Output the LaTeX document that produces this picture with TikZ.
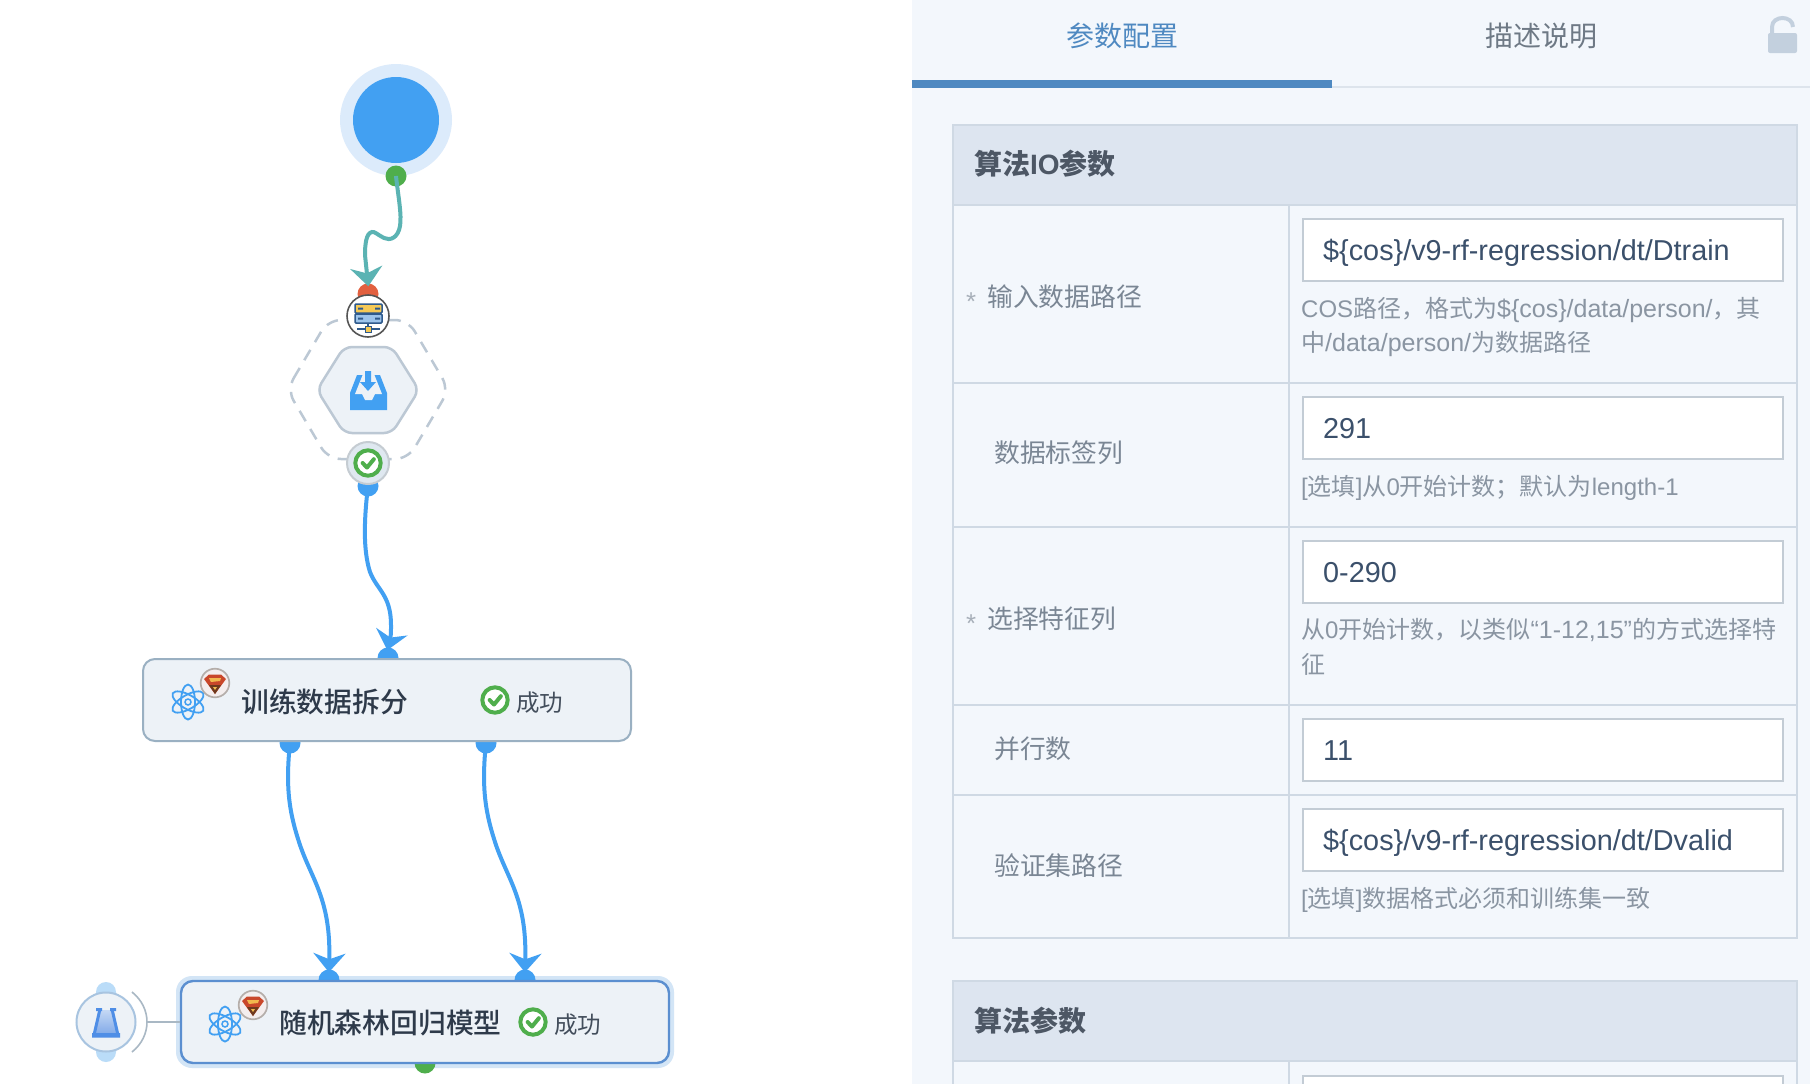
\documentclass[tikz,border=0pt]{standalone}
\usepackage{fontspec}
\usetikzlibrary{arrows.meta,shapes.geometric,calc}
\setmainfont{Liberation Sans}
\newfontfamily\cjk{Noto Sans CJK SC}
\newfontfamily\cjkm{Noto Sans CJK SC Medium}
\newcommand{\Z}[1]{{\cjk #1}}
\newcommand{\ZM}[1]{{\cjkm #1}}
\newcommand{\FS}[1]{\fontsize{#1}{#1}\selectfont}
\newcommand{\Lt}[1]{{\FS{25}#1}}
\definecolor{cBlue}{HTML}{42A0F2}
\definecolor{cTeal}{HTML}{5BB3B3}
\definecolor{cGreen}{HTML}{4FAE4C}
\definecolor{cRed}{HTML}{E2603F}
\definecolor{cPanel}{HTML}{F3F7FC}
\definecolor{cHead}{HTML}{DDE5F0}
\definecolor{cRule}{HTML}{CFD9E4}
\definecolor{cBox}{HTML}{EDF2F7}
\definecolor{cHint}{HTML}{8A95A2}
\definecolor{cLabel}{HTML}{7A8694}
\definecolor{cVal}{HTML}{3B506B}
\definecolor{cTitle}{HTML}{2E3A4A}
\definecolor{cTab}{HTML}{4F89C1}
\definecolor{cDash}{HTML}{BCC8D4}
\definecolor{cLock}{HTML}{C3D0DE}
\definecolor{cHalo}{HTML}{D3E5F6}
\definecolor{cRing}{HTML}{DCEBFB}
\definecolor{cDark}{HTML}{555555}
\definecolor{cYel}{HTML}{F6C955}
\definecolor{cNavy}{HTML}{2F5A8C}
\definecolor{cSky}{HTML}{9CC4EC}
\definecolor{cStF}{HTML}{DFE8F0}
\definecolor{cStD}{HTML}{C5CCD2}
\definecolor{cBoxA}{HTML}{9AB0C2}
\definecolor{cBoxB}{HTML}{5B8FD0}
\definecolor{cCaps}{HTML}{BADCF8}
\definecolor{cFlD}{HTML}{A8C4E0}
\definecolor{cLine}{HTML}{A9B8C4}
\definecolor{cFlT}{HTML}{C4D8F4}
\definecolor{cFlM}{HTML}{7FA8E8}
\definecolor{cFlB}{HTML}{4F8EE6}
\definecolor{cBadF}{HTML}{F4EEEE}
\definecolor{cBadD}{HTML}{B5AEAA}
\definecolor{cBadR}{HTML}{C9472A}
\definecolor{cBadY}{HTML}{F2B84E}
\definecolor{cBadK}{HTML}{6E3A1E}
\tikzset{
  conn/.style={line width=4pt,shorten >=-3pt,-{Stealth[length=19pt,width=32pt,inset=6pt]}},
  dotn/.style={circle,inner sep=0pt,minimum size=21pt,fill=#1},
  tw/.style={anchor=base west,inner sep=0pt},
  tc/.style={anchor=base,inner sep=0pt},
  hint/.style={tw,text=cHint,font=\FS{24}},
  lab/.style={tw,text=cLabel,font=\FS{25.8}},
  val/.style={tw,text=cVal,font=\FS{28.8}},
  head/.style={tw,text=cTitle!85!white,font=\FS{28}\bfseries},
  inp/.style={fill=white,draw=cRule!85!gray,line width=2pt},
  row/.style={draw=cRule,line width=2pt,fill=none},
  ttl/.style={tw,text=cTitle,font=\FS{27.8}},
  ok/.style={tw,text=cTitle!90!white,font=\FS{23.5}},
  flow/.style={rectangle,rounded corners=12pt,inner sep=0pt,fill=cBox,minimum width=488pt,minimum height=82pt},
}
\newcommand{\Atom}[2]{\begin{scope}[shift={(#1,#2)},draw=cBlue,line width=1.8pt]
  \foreach \a in {0,60,120}{\draw[rotate=\a] (0,0) ellipse [x radius=7,y radius=17.5];}
  \draw[line width=1.5pt] (0,0) circle [radius=3];
\end{scope}}
\newcommand{\Badge}[2]{\begin{scope}[shift={(#1,#2)}]
  \fill[cBadF,draw=cBadD,line width=1.7pt] (0,0) circle [radius=14.3];
  \fill[cBadR] (-11,-4) -- (-6,-8.5) -- (6,-8.5) -- (11,-4) -- (0,11) -- cycle;
  \fill[cBadY] (-6,-5) -- (6,-5) -- (5,-2) -- (-4,-1) -- cycle;
  \fill[cBadK] (-6,2) -- (6,2) -- (0,11) -- cycle;
  \fill[cBadY] (-2,4) -- (2,4) -- (0,7) -- cycle;
\end{scope}}
\newcommand{\Check}[3]{\begin{scope}[shift={(#1,#2)}]
  \fill[white,draw=cGreen,line width=4pt] (0,0) circle [radius=#3];
  \draw[cGreen,line width=4pt,line cap=round,line join=round] (-0.42*#3,0) -- (-0.08*#3,0.36*#3) -- (0.46*#3,-0.3*#3);
\end{scope}}
\begin{document}
\begin{tikzpicture}[x=1pt,y=-1pt]
\useasboundingbox (0,0) rectangle (1810,1084);
\clip (0,0) rectangle (1810,1084);
\fill[white] (0,0) rectangle (912,1084);
% ---------- right panel
\fill[cPanel] (912,0) rectangle (1810,1084);
\node[tc,text=cTab,font=\FS{28}] (tabA) at (1122,46) {\Z{参数配置}};
\node[tc,text=cLabel!90!black,font=\FS{28}] (tabB) at (1541,46) {\Z{描述说明}};
\fill[cRule!70!white] (1332,86) rectangle (1810,88);
\fill[cTab] (912,80) rectangle (1332,88);
% lock
\draw[cLock,line width=4pt] (1772,34) -- (1772,27) .. controls (1772,15) and (1793,15) .. (1793,27);
\fill[cLock,rounded corners=2pt] (1768,33) rectangle (1797,53);
% table 1
\fill[cHead] (953,125) rectangle (1797,205);
\draw[row] (953,125) rectangle (1797,938);
\draw[row] (953,205) -- (1797,205);
\draw[row] (953,383) -- (1797,383);
\draw[row] (953,527) -- (1797,527);
\draw[row] (953,705) -- (1797,705);
\draw[row] (953,795) -- (1797,795);
\draw[row] (1289,205) -- (1289,938);
\node[head] (h1) at (974,174) {\Z{算法}IO\Z{参数}};
% rows
\draw[inp] (1303,219) rectangle (1783,281);
\draw[inp] (1303,397) rectangle (1783,459);
\draw[inp] (1303,541) rectangle (1783,603);
\draw[inp] (1303,719) rectangle (1783,781);
\draw[inp] (1303,809) rectangle (1783,871);
\node[val] (v1) at (1323,260) {\$\{cos\}/v9-rf-regression/dt/Dtrain};
\node[val] (v2) at (1323,438) {291};
\node[val] (v3) at (1323,582) {0-290};
\node[val] (v4) at (1323,760) {11};
\node[val] (v5) at (1323,850) {\$\{cos\}/v9-rf-regression/dt/Dvalid};
\node[hint] (n1a) at (1301,317) {COS\Z{路径，格式为}\Lt{\$\{cos\}/data/person/}\Z{，其}};
\node[hint] (n1b) at (1301,351) {\Z{中}\Lt{/data/person/}\Z{为数据路径}};
\node[hint] (n2) at (1301,495) {[\Z{选填}]\Z{从}0\Z{开始计数；默认为}length-1};
\node[hint] (n3a) at (1301,638) {\Z{从}0\Z{开始计数，以类似}\Lt{“1-12,15”}\Z{的方式选择特}};
\node[hint] (n3b) at (1301,673) {\Z{征}};
\node[hint] (n5) at (1301,907) {[\Z{选填}]\Z{数据格式必须和训练集一致}};
\node[lab,text=cHint!75!white] (s1) at (966,310) {*};
\node[lab,text=cHint!75!white] (s3) at (966,632) {*};
\node[lab] (l1) at (987,306) {\Z{输入数据路径}};
\node[lab] (l2) at (994,462) {\Z{数据标签列}};
\node[lab] (l3) at (987,628) {\Z{选择特征列}};
\node[lab] (l4) at (994,758) {\Z{并行数}};
\node[lab] (l5) at (994,875) {\Z{验证集路径}};
% table 2
\fill[cHead] (953,981) rectangle (1797,1061);
\draw[row] (953,1090) -- (953,981) -- (1797,981) -- (1797,1090);
\draw[row] (953,1061) -- (1797,1061);
\draw[row] (1289,1061) -- (1289,1090);
\draw[inp] (1303,1076) rectangle (1783,1100);
\node[head] (h2) at (974,1031) {\Z{算法参数}};
% ---------- left flow: halos and dots
\node[flow,fill=cHalo,minimum width=498pt,minimum height=92pt,rounded corners=16pt] (halo) at (425,1022) {};
\fill[cRing] (396,120) circle [radius=56];
\node[circle,fill=cBlue,inner sep=0pt,minimum size=86pt] (start) at (396,120) {};
\node[dotn=cGreen] (gA) at (396,176) {};
\node[dotn=cRed] (rA) at (368,294) {};
\node[dotn=cBlue] (bA) at (368,486) {};
\node[dotn=cBlue] (tB) at (388,658) {};
\node[dotn=cBlue] (oB1) at (290,743) {};
\node[dotn=cBlue] (oB2) at (486,743) {};
\node[dotn=cBlue] (tC1) at (329,980) {};
\node[dotn=cBlue] (tC2) at (525,980) {};
\node[dotn=cGreen] (oC) at (425,1063) {};
% connectors
\draw[conn,cTeal] (gA.center) .. controls (398,195) and (402,215) .. (400,226) .. controls (398,238) and (390,241) .. (384,238) .. controls (378,235) and (374,231) .. (372,232) .. controls (366,233) and (365,245) .. (365,255) .. controls (366,265) .. (rA.north);
\draw[conn,cBlue] (bA.center) .. controls (364,520) and (363,550) .. (370,572) .. controls (377,590) and (391,595) .. (391,625) .. controls (391,635) .. (tB.north);
\draw[conn,cBlue] (oB1.center) .. controls (285,790) and (290,815) .. (300,845) .. controls (312,880) and (331,900) .. (tC1.north);
\draw[conn,cBlue] (oB2.center) .. controls (481,790) and (486,815) .. (496,845) .. controls (508,880) and (527,900) .. (tC2.north);
% hexagons
\draw[cDash,line width=2.5pt,dash pattern=on 12pt off 9pt,rounded corners=13pt] (287,389.5) -- (328,320) -- (408,320) -- (449,389.5) -- (408,459) -- (328,459) -- cycle;
\draw[cDash,line width=2.5pt,fill=cBox,rounded corners=8pt] (317,390) -- (344,347) -- (392,347) -- (419,390) -- (392,433) -- (344,433) -- cycle;
% inbox icon
\fill[cBlue] (350,410) -- (350,393) -- (357,375) -- (380,375) -- (387,393) -- (387,410) -- cycle;
\fill[cBox] (363,374) -- (374,374) -- (382,394) -- (375,394) -- (372,400) -- (365,400) -- (362,394) -- (355,394) -- cycle;
\fill[cBlue] (365,371) -- (371,371) -- (371,382) -- (376,382) -- (368,391) -- (360,382) -- (365,382) -- cycle;
% server icon
\node[circle,fill=white,draw=cDark,line width=1.6pt,inner sep=0pt,minimum size=42pt] (srv) at (368,316) {};
\fill[cYel,draw=cNavy,line width=1.5pt,rounded corners=1pt] (355,304) rectangle (382,313);
\fill[cSky,draw=cNavy,line width=1.5pt,rounded corners=1pt] (355,314) rectangle (382,323);
\draw[cNavy,line width=1.5pt] (368,323) -- (368,329) (357,329) -- (380,329);
\fill[cYel,draw=cNavy,line width=1pt] (365,326) rectangle (371,332);
\fill[cNavy] (358,307.5) rectangle (363,309.5) (375,307.5) rectangle (380,309.5) (358,317.5) rectangle (363,319.5) (375,317.5) rectangle (380,319.5);
% status circle
\node[circle,fill=cStF,draw=cStD,line width=2pt,inner sep=0pt,minimum size=42pt] (st) at (368,463) {};
\Check{368}{463}{12.7}
% box 1
\node[flow,draw=cBoxA,line width=2pt] (b1) at (387,700) {};
\Atom{188}{702}
\Badge{215}{683}
\node[ttl] (b1t) at (241,712) {\ZM{训练数据拆分}};
\Check{495}{700}{12.7}
\node[ok] (b1s) at (516,711) {\Z{成功}};
% box 2
\node[flow,draw=cBoxB,line width=2.4pt] (b2) at (425,1022) {};
\Atom{225}{1024}
\Badge{253}{1005}
\node[ttl] (b2t) at (279,1033) {\ZM{随机森林回归模型}};
\Check{533}{1022}{12.7}
\node[ok] (b2s) at (554,1033) {\Z{成功}};
% flask
\fill[cCaps,rounded corners=10pt] (96,982) rectangle (116,1062);
\node[circle,fill=cBox,draw=cFlD,line width=2pt,inner sep=0pt,minimum size=59pt] (fl) at (106,1022) {};
\draw[cLine,line width=1.6pt] (132,992) .. controls (152,1008) and (152,1036) .. (132,1052);
\coordinate (flr) at (147,1022);
\draw[cLine,line width=1.6pt] (flr) -- (b2.west);
\shade[top color=cFlT,bottom color=cFlM] (100,1010) -- (112,1010) -- (118,1035) -- (94,1035) -- cycle;
\draw[cFlB,line width=3pt] (100,1009) -- (94,1035) (112,1009) -- (118,1035);
\fill[cFlB] (92,1033) rectangle (120,1037.5) (96,1008) rectangle (102,1011) (110,1008) rectangle (116,1011);
\end{tikzpicture}
\end{document}
